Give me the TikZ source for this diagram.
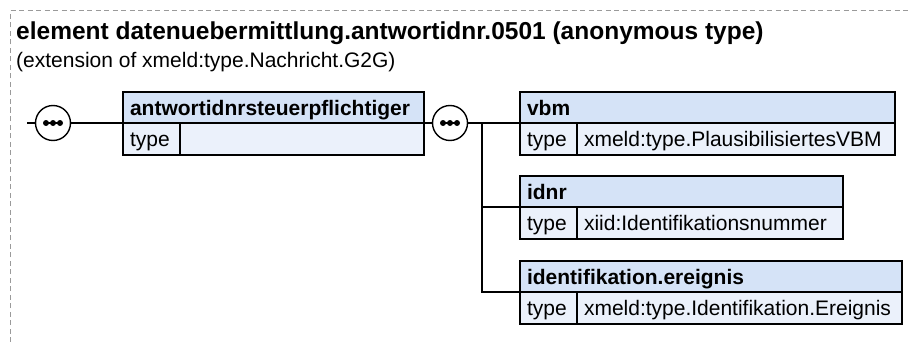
\documentclass[tikz,border=0pt]{standalone}
\usepackage{fontspec}
\setmainfont{Liberation Sans}
\usetikzlibrary{positioning}
\definecolor{kopfblau}{HTML}{D5E3F7}
\definecolor{zeilenblau}{HTML}{EBF1FB}
\definecolor{rahmengrau}{HTML}{9A9A9A}
\tikzset{
  kopf/.style={draw, line width=1.4pt, fill=kopfblau, anchor=north west,
    minimum height=31pt, inner xsep=7pt, inner ysep=0pt, outer sep=0pt,
    text height=15pt, text depth=0pt, align=left,
    font=\fontsize{21}{24}\selectfont\bfseries},
  zelle/.style={draw, line width=1.4pt, fill=zeilenblau, anchor=north west,
    minimum height=32pt, inner xsep=7pt, inner ysep=0pt, outer sep=0pt,
    text height=15pt, text depth=0pt, align=left,
    font=\fontsize{21}{24}\selectfont},
  seq/.style={circle, draw, line width=1.4pt, fill=white,
    minimum size=35pt, inner sep=0pt, outer sep=0pt},
  leitung/.style={line width=1.4pt},
}
\begin{document}
\begin{tikzpicture}[x=1pt, y=-1pt]
        \useasboundingbox (0,0) rectangle (909,342);

        % Rahmen
        \draw[rahmengrau, line width=1pt, dash pattern=on 5pt off 3.5pt] (10,342) -- (10,11) -- (909,11);

        % Titel
        \node[anchor=base west, inner sep=0pt, font=\fontsize{24.5}{28}\selectfont\bfseries] (titel) at (16,40)
          {element datenuebermittlung.antwortidnr.0501 (anonymous type)};
        \node[anchor=base west, inner sep=0pt, font=\fontsize{21}{24}\selectfont] (untertitel) at (16,68)
          {(extension of xmeld:type.Nachricht.G2G)};

        % Sequenzen
        \coordinate (start) at (27,123);
        \node[seq] (seqL) at (53,123) {};
        \node[seq] (seqR) at (450,123) {};
        \foreach \s in {seqL,seqR}{
          \draw[leitung] ([xshift=-7pt]\s.center) -- ([xshift=7pt]\s.center);
          \foreach \d in {-7,0,7} \fill ([xshift=\d pt]\s.center) circle (3pt);
        }

        % Elemente
        \node[kopf, text width=287pt] (antw) at (123,92) {antwortidnrsteuerpflichtiger};
        \node[zelle, text width=43pt] (antwT) at (antw.south west) {type};
        \node[zelle, text width=230pt] (antwW) at (antwT.north east) {};

        \node[kopf, text width=361pt] (vbm) at (520,92) {vbm};
        \node[zelle, text width=43pt] (vbmT) at (vbm.south west) {type};
        \node[zelle, text width=304pt] (vbmW) at (vbmT.north east) {xmeld:type.PlausibilisiertesVBM};

        \node[kopf, text width=309pt] (idnr) at (520,176) {idnr};
        \node[zelle, text width=43pt] (idnrT) at (idnr.south west) {type};
        \node[zelle, text width=252pt] (idnrW) at (idnrT.north east) {xiid:Identifikationsnummer};

        \node[kopf, text width=368pt] (ident) at (520,261) {identifikation.ereignis};
        \node[zelle, text width=43pt] (identT) at (ident.south west) {type};
        \node[zelle, text width=311pt] (identW) at (identT.north east) {xmeld:type.Identifikation.Ereignis};

        % Verbindungen
        \coordinate (gabel) at (482,123);
        \draw[leitung] (start) -- (seqL);
        \draw[leitung] (seqL) -- (antw.south west);
        \draw[leitung] (antw.south east) -- (seqR);
        \draw[leitung] (seqR) -- (gabel) -- (vbm.south west);
        \draw[leitung] (gabel) |- (idnr.south west);
        \draw[leitung] (gabel) |- (ident.south west);
    \end{tikzpicture}
\end{document}
